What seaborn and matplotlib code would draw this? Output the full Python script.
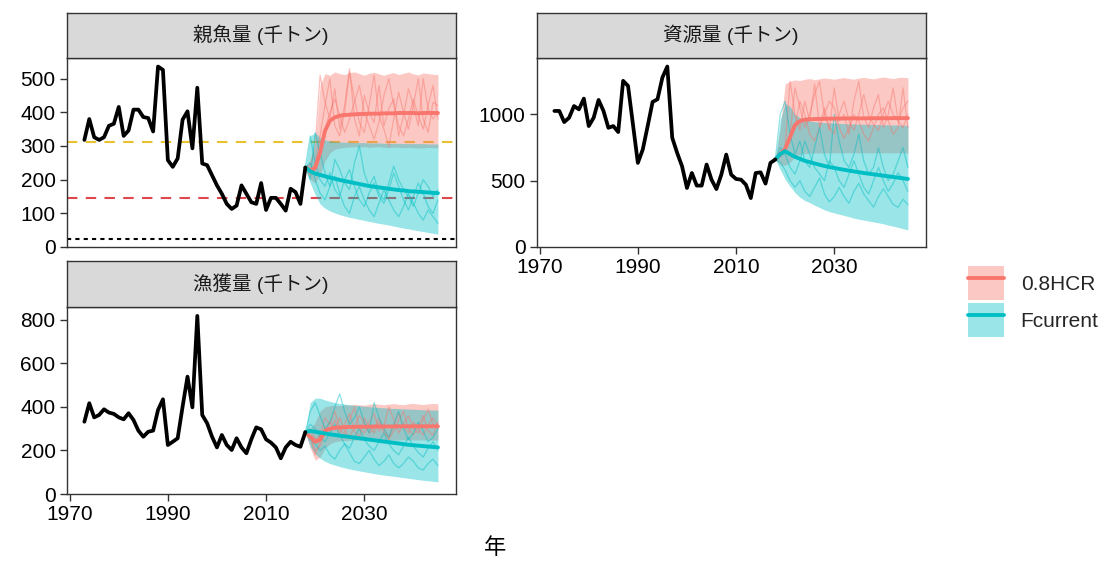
import matplotlib
matplotlib.use("Agg")
import matplotlib.pyplot as plt
import numpy as np
import pandas as pd
import seaborn as sns
from matplotlib.patches import Patch
from matplotlib.lines import Line2D

sns.set_theme(style="white")
plt.rcParams["font.family"] = ["Liberation Sans", "Noto Sans CJK JP", "DejaVu Sans"]

# ---------------- data ----------------
hist_years = list(range(1973, 2019))
proj_years = list(range(2018, 2046))
scenarios = ["0.8HCR", "Fcurrent"]
panel_titles = ["親魚量 (千トン)", "資源量 (千トン)", "漁獲量 (千トン)"]
x_ticks = [1970, 1990, 2010, 2030]
x_label = "年"

ssb_hist = [318, 380, 326, 318, 326, 360, 366, 416, 330, 346,
            408, 408, 386, 383, 343, 536, 526, 258, 238, 263,
            378, 403, 293, 473, 248, 243, 213, 183, 158, 128,
            113, 123, 183, 158, 133, 128, 190, 110, 146, 146,
            128, 108, 173, 163, 128, 236]
bio_hist = [1026, 1026, 942, 975, 1063, 1038, 1119, 912, 975, 1109,
            1026, 899, 912, 867, 1253, 1215, 925, 634, 735, 912,
            1094, 1114, 1278, 1361, 824, 710, 609, 445, 558, 463,
            463, 622, 508, 437, 546, 697, 546, 513, 508, 470,
            369, 558, 563, 478, 634, 660]
catch_hist = [332, 417, 352, 363, 389, 374, 368, 352, 343, 371,
              340, 291, 263, 286, 291, 386, 435, 225, 240, 256,
              401, 539, 398, 818, 363, 325, 263, 214, 271, 225,
              202, 256, 214, 187, 251, 306, 297, 251, 236, 214,
              164, 214, 240, 225, 217, 284]

# reference points for spawning stock biomass
ref_target = 312
ref_limit = 146
ref_ban = 23

# projections: median / upper / lower, per scenario
ssb_hcr_med = [236, 228, 235, 280, 345, 375, 385, 390, 392, 393, 394, 395, 395, 396, 396, 396, 397, 397, 397, 398, 398, 398, 398, 397, 398, 398, 398, 398]
ssb_hcr_hi = [236, 255, 300, 480, 515, 510, 520, 515, 512, 518, 520, 515, 510, 516, 519, 514, 510, 515, 518, 512, 516, 520, 514, 511, 517, 515, 513, 512]
ssb_hcr_lo = [236, 200, 190, 215, 255, 280, 290, 294, 296, 297, 298, 297, 298, 296, 297, 298, 296, 295, 297, 296, 295, 296, 295, 294, 295, 296, 295, 294]
ssb_fc_med = [236, 225, 218, 214, 210, 206, 203, 199, 196, 193, 190, 187, 184, 181, 179, 177, 175, 173, 171, 169, 168, 166, 165, 164, 163, 162, 161, 160]
ssb_fc_hi = [236, 330, 340, 325, 318, 315, 313, 312, 311, 311, 310, 310, 310, 309, 309, 309, 308, 308, 308, 308, 307, 307, 307, 307, 307, 306, 306, 306]
ssb_fc_lo = [236, 190, 155, 128, 115, 107, 101, 96, 92, 88, 85, 82, 79, 76, 73, 70, 68, 65, 62, 59, 56, 54, 51, 48, 46, 43, 41, 38]

bio_hcr_med = [660, 700, 740, 830, 920, 950, 960, 963, 965, 966, 967, 968, 968, 969, 969, 970, 970, 970, 970, 971, 971, 971, 971, 971, 972, 972, 972, 972]
bio_hcr_hi = [660, 900, 1230, 1250, 1260, 1255, 1265, 1270, 1262, 1268, 1275, 1270, 1265, 1272, 1278, 1270, 1266, 1274, 1280, 1272, 1268, 1276, 1282, 1275, 1270, 1278, 1280, 1276]
bio_hcr_lo = [660, 620, 615, 640, 680, 700, 706, 708, 709, 710, 710, 710, 711, 710, 710, 711, 710, 710, 711, 710, 710, 710, 710, 711, 710, 710, 710, 710]
bio_fc_med = [660, 700, 723, 700, 680, 665, 650, 640, 630, 620, 611, 603, 596, 589, 582, 576, 570, 564, 558, 553, 548, 543, 538, 533, 528, 523, 518, 513]
bio_fc_hi = [660, 960, 1080, 1060, 1000, 975, 960, 950, 945, 940, 938, 936, 934, 932, 930, 929, 928, 927, 926, 925, 924, 923, 922, 921, 920, 920, 919, 918]
bio_fc_lo = [660, 584, 510, 457, 410, 375, 350, 335, 315, 298, 280, 267, 257, 247, 238, 228, 218, 210, 203, 196, 189, 182, 175, 165, 157, 148, 138, 129]

catch_hcr_med = [284, 262, 240, 250, 290, 300, 304, 306, 307, 308, 308, 309, 309, 309, 310, 310, 310, 310, 310, 311, 311, 311, 311, 311, 311, 311, 311, 311]
catch_hcr_hi = [284, 300, 330, 380, 400, 405, 408, 405, 410, 408, 412, 410, 408, 412, 415, 412, 410, 413, 415, 412, 410, 414, 416, 413, 411, 414, 416, 414]
catch_hcr_lo = [284, 210, 155, 170, 210, 230, 240, 244, 246, 247, 248, 248, 248, 249, 248, 248, 249, 248, 248, 248, 249, 248, 248, 248, 249, 248, 248, 248]
catch_fc_med = [284, 290, 286, 282, 278, 274, 271, 268, 265, 262, 259, 256, 253, 250, 247, 244, 241, 238, 235, 232, 229, 226, 224, 222, 220, 218, 216, 214]
catch_fc_hi = [284, 420, 440, 440, 432, 425, 420, 416, 413, 410, 407, 405, 403, 401, 399, 397, 396, 394, 393, 392, 391, 390, 389, 388, 387, 386, 386, 385]
catch_fc_lo = [284, 217, 185, 164, 150, 140, 133, 126, 120, 115, 110, 106, 102, 98, 94, 90, 87, 84, 81, 78, 75, 72, 69, 66, 63, 61, 58, 56]

# individual simulation runs (thin lines)
ssb_hcr_runs = [
    [236, 245, 300, 510, 430, 380, 470, 350, 420, 530, 380, 330, 450, 400, 370, 480, 360, 410, 440, 330, 390, 470, 420, 360, 500, 410, 380, 400],
    [236, 210, 250, 330, 420, 500, 360, 330, 400, 520, 440, 370, 340, 420, 510, 390, 350, 300, 380, 460, 400, 350, 420, 500, 380, 340, 430, 420],
    [236, 220, 230, 280, 350, 400, 440, 390, 340, 380, 430, 480, 400, 360, 320, 370, 450, 500, 420, 360, 330, 380, 440, 390, 350, 420, 480, 380],
]
ssb_fc_runs = [
    [236, 330, 250, 200, 180, 220, 170, 150, 200, 230, 180, 140, 120, 160, 190, 150, 130, 170, 220, 180, 140, 110, 150, 190, 160, 120, 100, 140],
    [236, 200, 340, 280, 220, 180, 260, 230, 190, 170, 250, 300, 220, 180, 210, 160, 140, 190, 240, 200, 170, 150, 120, 160, 200, 180, 150, 170],
    [236, 250, 200, 160, 140, 180, 210, 160, 120, 100, 150, 180, 140, 110, 90, 130, 170, 140, 110, 90, 120, 160, 130, 100, 80, 110, 90, 70],
]
bio_hcr_runs = [
    [660, 700, 760, 1250, 1000, 880, 1100, 950, 1230, 900, 1050, 880, 1200, 950, 1000, 850, 1100, 1250, 980, 900, 1050, 1150, 900, 1000, 1200, 950, 1050, 1100],
    [660, 680, 720, 850, 1200, 1050, 900, 1000, 1150, 1250, 1000, 900, 850, 1000, 1100, 950, 880, 1000, 1150, 1000, 920, 880, 1000, 1100, 1000, 950, 900, 1000],
    [660, 690, 740, 800, 900, 1100, 1000, 850, 800, 900, 1000, 1100, 1050, 900, 820, 900, 1000, 950, 850, 800, 900, 1000, 1050, 950, 850, 900, 1200, 900],
]
bio_fc_runs = [
    [660, 1000, 1100, 850, 700, 800, 650, 600, 750, 900, 700, 600, 1000, 800, 650, 600, 700, 850, 650, 550, 600, 750, 600, 500, 550, 650, 750, 600],
    [660, 750, 700, 600, 550, 650, 800, 700, 600, 550, 500, 650, 600, 500, 450, 550, 650, 550, 450, 400, 500, 600, 500, 420, 480, 560, 500, 420],
    [660, 640, 580, 500, 450, 500, 420, 380, 450, 520, 400, 340, 380, 450, 380, 330, 420, 480, 400, 350, 300, 380, 440, 380, 320, 300, 360, 320],
]
catch_hcr_runs = [
    [284, 300, 250, 270, 350, 320, 380, 300, 270, 340, 400, 300, 280, 330, 370, 290, 310, 400, 340, 280, 320, 360, 300, 280, 340, 390, 320, 300],
    [284, 260, 200, 220, 280, 330, 300, 350, 290, 260, 310, 360, 330, 280, 300, 350, 280, 260, 320, 370, 310, 280, 330, 300, 270, 320, 350, 310],
    [284, 270, 180, 240, 310, 290, 340, 280, 320, 370, 290, 260, 350, 310, 280, 330, 300, 250, 290, 340, 380, 300, 270, 310, 360, 290, 270, 330],
]
catch_fc_runs = [
    [284, 380, 420, 360, 300, 330, 400, 460, 380, 320, 350, 400, 330, 280, 420, 350, 300, 260, 320, 380, 300, 250, 280, 330, 290, 240, 260, 300],
    [284, 320, 300, 260, 240, 280, 320, 270, 230, 210, 260, 300, 250, 220, 200, 240, 280, 230, 200, 180, 220, 260, 220, 190, 170, 210, 240, 200],
    [284, 250, 230, 200, 220, 180, 160, 200, 230, 190, 150, 140, 170, 200, 160, 130, 150, 180, 140, 120, 140, 170, 150, 120, 110, 140, 160, 130],
]

y_ticks = [[0, 100, 200, 300, 400, 500], [0, 500, 1000], [0, 200, 400, 600, 800]]

# ---------------- styling ----------------
palette = {"0.8HCR": "#F8766D", "Fcurrent": "#00BFC4"}
W, H = 1109, 568
fig = plt.figure(figsize=(W / 100, H / 100), dpi=100)

def frac(l, t, r, b):
    return [l / W, 1 - b / H, (r - l) / W, (b - t) / H]

# panel rectangles in pixels: (left, top, right, bottom), strip (top, bottom)
layout = [
    ((66.7, 57.5, 455.6, 247), (13, 57.5)),
    ((536.7, 57.5, 925.6, 247), (13, 57.5)),
    ((66.7, 307, 455.6, 494), (261, 307)),
]

panels = [
    dict(hist=ssb_hist,
         bands={"0.8HCR": (ssb_hcr_med, ssb_hcr_lo, ssb_hcr_hi), "Fcurrent": (ssb_fc_med, ssb_fc_lo, ssb_fc_hi)},
         runs={"0.8HCR": ssb_hcr_runs, "Fcurrent": ssb_fc_runs}),
    dict(hist=bio_hist,
         bands={"0.8HCR": (bio_hcr_med, bio_hcr_lo, bio_hcr_hi), "Fcurrent": (bio_fc_med, bio_fc_lo, bio_fc_hi)},
         runs={"0.8HCR": bio_hcr_runs, "Fcurrent": bio_fc_runs}),
    dict(hist=catch_hist,
         bands={"0.8HCR": (catch_hcr_med, catch_hcr_lo, catch_hcr_hi), "Fcurrent": (catch_fc_med, catch_fc_lo, catch_fc_hi)},
         runs={"0.8HCR": catch_hcr_runs, "Fcurrent": catch_fc_runs}),
]

x_span = max(proj_years) - min(hist_years)
xlim = (min(hist_years) - 0.05 * x_span, max(proj_years) + 0.05 * x_span)
edge = "#333333"

for i, (p, ((l, t, r, b), (st, sb))) in enumerate(zip(panels, layout)):
    ax = fig.add_axes(frac(l, t, r, b))
    ax.set_facecolor("white")

    # reference lines (SSB panel only)
    if i == 0:
        ax.axhline(ref_target, color="#E8C22E", lw=1.5, ls=(0, (5, 4)), zorder=1)
        ax.axhline(ref_limit, color="#E0474C", lw=1.5, ls=(0, (5, 4)), zorder=1)
        ax.axhline(ref_ban, color="black", lw=1.5, ls=(0, (2, 2)), zorder=1)

    # ribbons
    for sc in scenarios:
        med, lo, hi = p["bands"][sc]
        ax.fill_between(proj_years, lo, hi, color=palette[sc], alpha=0.4, lw=0, zorder=2)

    # thin simulation lines
    rows = []
    for sc in scenarios:
        for k, run in enumerate(p["runs"][sc]):
            for yr, v in zip(proj_years, run):
                rows.append((yr, v, sc, f"{sc}_{k}"))
    df_runs = pd.DataFrame(rows, columns=["year", "value", "scenario", "sim"])
    sns.lineplot(data=df_runs, x="year", y="value", hue="scenario", units="sim",
                 estimator=None, palette=palette, lw=0.9, alpha=0.45,
                 legend=False, ax=ax, zorder=3)

    # medians
    rows = []
    for sc in scenarios:
        for yr, v in zip(proj_years, p["bands"][sc][0]):
            rows.append((yr, v, sc))
    df_med = pd.DataFrame(rows, columns=["year", "value", "scenario"])
    sns.lineplot(data=df_med, x="year", y="value", hue="scenario", palette=palette,
                 lw=2.8, legend=False, ax=ax, zorder=4)

    # historical
    df_hist = pd.DataFrame({"year": hist_years, "value": p["hist"]})
    sns.lineplot(data=df_hist, x="year", y="value", color="black", lw=2.7, ax=ax, zorder=5)

    # scales
    ymax = max(max(p["hist"]),
               max(max(v[2]) for v in p["bands"].values()),
               max(max(max(r) for r in rr) for rr in p["runs"].values()))
    ax.set_xlim(*xlim)
    ax.set_ylim(0, ymax * 1.05)
    ax.set_xticks(x_ticks)
    ax.set_yticks(y_ticks[i])
    ax.set_xlabel("")
    ax.set_ylabel("")
    for s in ax.spines.values():
        s.set_visible(True)
        s.set_color(edge)
        s.set_linewidth(1.0)
    ax.tick_params(axis="both", direction="out", length=5, width=1.0, color=edge,
                   labelsize=15, labelcolor="black", pad=3, left=True, bottom=True)
    if i == 0:
        ax.tick_params(axis="x", bottom=False, labelbottom=False)
    ax.grid(False)

    # facet strip
    sax = fig.add_axes(frac(l, st, r, sb))
    sax.set_facecolor("#D9D9D9")
    sax.set_xticks([])
    sax.set_yticks([])
    for s in sax.spines.values():
        s.set_visible(True)
        s.set_color(edge)
        s.set_linewidth(1.0)
    sax.text(0.5, 0.5, panel_titles[i], transform=sax.transAxes, ha="center",
             va="center", fontsize=14, color="#1A1A1A",
             family=["Liberation Sans", "Noto Sans CJK JP"])

# x axis title
fig.text(495 / W, 1 - 548 / H, x_label, ha="center", va="center", fontsize=16,
         color="black", family=["Noto Sans CJK JP"])

# legend
handles = [(Patch(facecolor=palette[sc], alpha=0.4, lw=0), Line2D([], [], color=palette[sc], lw=2.8))
           for sc in scenarios]
fig.legend(handles, scenarios, loc="upper left", bbox_to_anchor=(953 / W, 1 - 251 / H),
           frameon=False, fontsize=15, handlelength=1.75, handleheight=2.2,
           labelspacing=0.1, handletextpad=0.8, borderpad=0.2)

fig.savefig("out.png", dpi=100)
